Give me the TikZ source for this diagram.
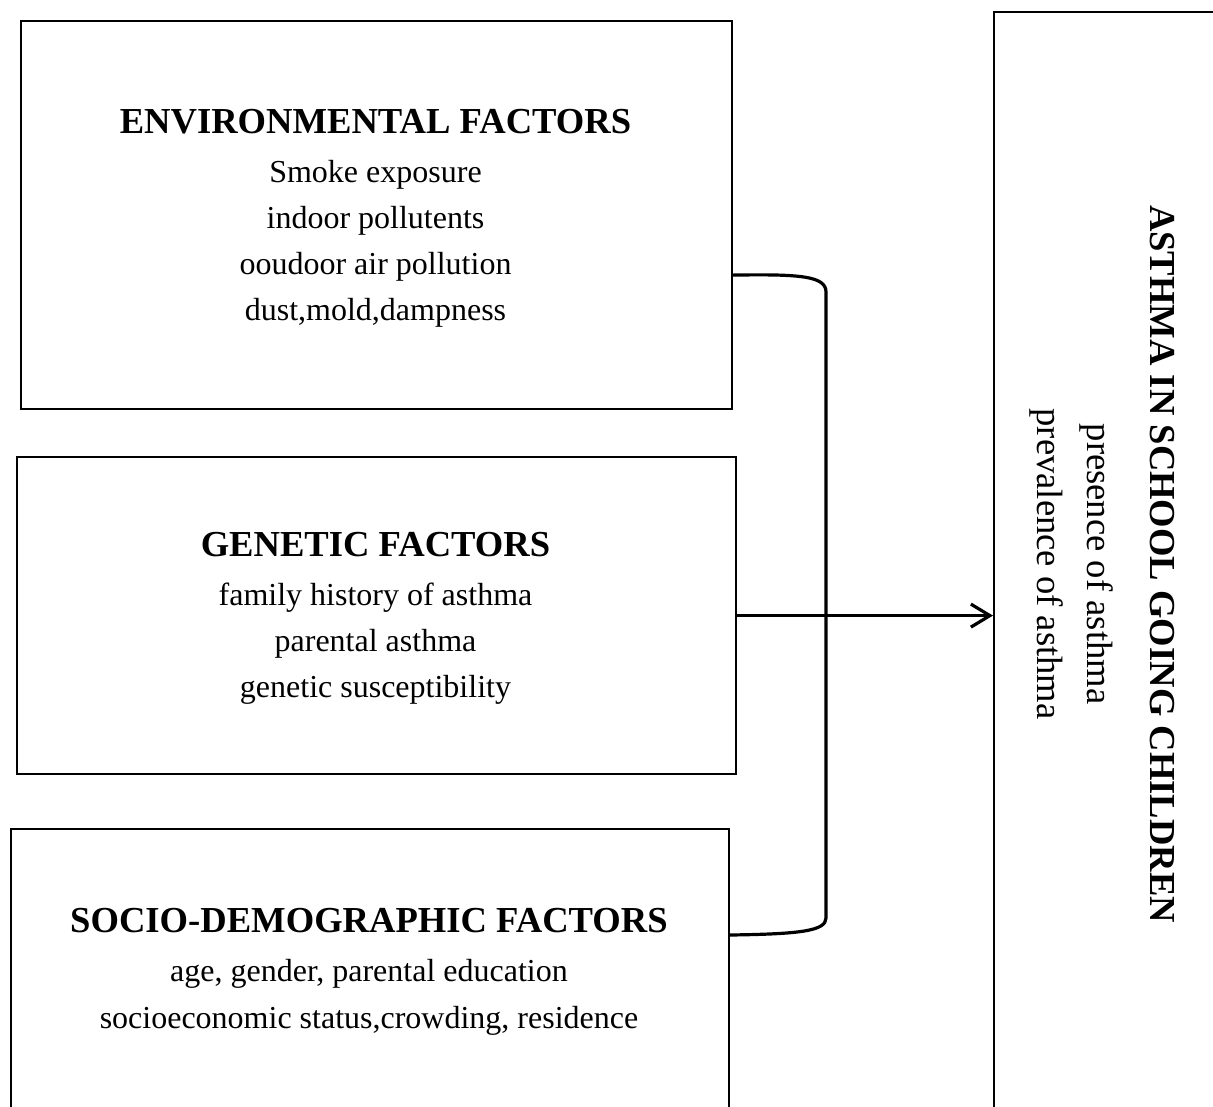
\documentclass[tikz,border=0pt]{standalone}
\usepackage{fontspec}
\setmainfont{Liberation Serif}
\usetikzlibrary{arrows.meta}
\begin{document}
\begin{tikzpicture}[x=1pt,y=-1pt,
  box/.style={draw, line width=2.2pt, inner sep=0pt, anchor=north west},
  ttl/.style={font=\bfseries\fontsize{36.6}{40}\selectfont, anchor=base, inner sep=0pt},
  body/.style={font=\fontsize{32}{38}\selectfont, anchor=base, inner sep=0pt},
  rbody/.style={font=\fontsize{36.6}{40}\selectfont, anchor=base, inner sep=0pt},
  conn/.style={line width=3.2pt}]
\clip (0,0) rectangle (1213,1106);
% boxes
\node[box, minimum width=711pt, minimum height=388pt] (env) at (20,20) {};
\node[box, minimum width=719pt, minimum height=317pt] (gen) at (16,456) {};
\node[box, minimum width=718pt, minimum height=320pt] (soc) at (10,828) {};
\node[box, minimum width=260pt, minimum height=1130pt] (out) at (993,11) {};
% environmental
\node[ttl]  (envT) at (375.5,133) {ENVIRONMENTAL FACTORS};
\node[body] (env1) at (375.5,182) {Smoke exposure};
\node[body] (env2) at (375.5,228) {indoor pollutents};
\node[body] (env3) at (375.5,274) {ooudoor air pollution};
\node[body] (env4) at (375.5,320) {dust,mold,dampness};
% genetic
\node[ttl]  (genT) at (375.5,556) {GENETIC FACTORS};
\node[body] (gen1) at (375.5,605) {family history of asthma};
\node[body] (gen2) at (375.5,651) {parental asthma};
\node[body] (gen3) at (375.5,697) {genetic susceptibility};
% socio-demographic
\node[ttl]  (socT) at (369,932) {SOCIO-DEMOGRAPHIC FACTORS};
\node[body] (soc1) at (369,981) {age, gender, parental education};
\node[body] (soc2) at (369,1028) {socioeconomic status,crowding, residence};
% outcome (rotated)
\node[ttl, rotate=-90]   (outT) at (1150,564) {ASTHMA IN SCHOOL GOING CHILDREN};
\node[rbody, rotate=-90] (out1) at (1087,564) {presence of asthma};
\node[rbody, rotate=-90] (out2) at (1037,564) {prevalence of asthma};
% connectors
\coordinate (bt) at (826,292);
\coordinate (bb) at (826,918);
\draw[conn] ([yshift=-60pt]env.east) .. controls (800,274) and (826,276) .. (bt)
  -- (bb) .. controls (826,931) and (800,934) .. ([yshift=-107pt]soc.north east);
\draw[conn, -{Straight Barb[length=19pt,width=23pt]}] (gen.east) -- (gen.east -| out.west);
\end{tikzpicture}
\end{document}
